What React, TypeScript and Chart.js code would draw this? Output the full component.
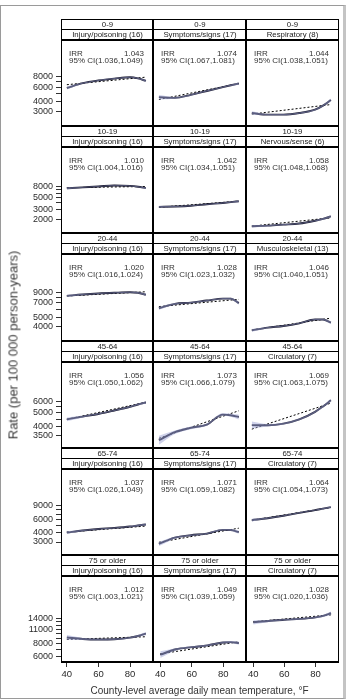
import React, { useEffect, useRef } from "react";
import { Chart, registerables } from "chart.js";

Chart.register(...registerables);

const FONT = "'Liberation Sans', Arial, Helvetica, sans-serif";

// Temperature grid (°F) of the smoothed curves and of the log-linear trend lines
const TEMPS = [40, 50, 60, 70, 80, 85, 90];
const TREND_TEMPS = [40, 90];
const X_TICKS = [40, 60, 80];

const AGE_GROUPS = ["0-9", "10-19", "20-44", "45-64", "65-74", "75 or older"];
const OUTCOMES = [
  ["Injury/poisoning (16)", "Symptoms/signs (17)", "Respiratory (8)"],
  ["Injury/poisoning (16)", "Symptoms/signs (17)", "Nervous/sense (6)"],
  ["Injury/poisoning (16)", "Symptoms/signs (17)", "Musculoskeletal (13)"],
  ["Injury/poisoning (16)", "Symptoms/signs (17)", "Circulatory (7)"],
  ["Injury/poisoning (16)", "Symptoms/signs (17)", "Circulatory (7)"],
  ["Injury/poisoning (16)", "Symptoms/signs (17)", "Circulatory (7)"],
];
const IRR_VALUES = [
  ["1.043", "1.074", "1.044"],
  ["1.010", "1.042", "1.058"],
  ["1.020", "1.028", "1.046"],
  ["1.056", "1.073", "1.069"],
  ["1.037", "1.071", "1.064"],
  ["1.012", "1.049", "1.028"],
];
const IRR_CI = [
  ["1.036,1.049", "1.067,1.081", "1.038,1.051"],
  ["1.004,1.016", "1.034,1.051", "1.048,1.068"],
  ["1.016,1.024", "1.023,1.032", "1.040,1.051"],
  ["1.050,1.062", "1.066,1.079", "1.063,1.075"],
  ["1.026,1.049", "1.059,1.082", "1.054,1.073"],
  ["1.003,1.021", "1.039,1.059", "1.020,1.036"],
];

// Log-scale y axis of each age-group row
const Y_MIN = [2565, 1580, 3490, 3260, 2610, 5360];
const Y_MAX = [17660, 29600, 18160, 9800, 21260, 29520];
const Y_TICKS = [
  [3000, 4000, 5000, 6000, 7000, 8000],
  [2000, 3000, 4000, 5000, 6000, 7000, 8000],
  [4000, 5000, 6000, 7000, 8000, 9000],
  [3500, 4000, 4500, 5000, 5500, 6000],
  [3000, 4000, 5000, 6000, 7000, 8000, 9000],
  [6000, 7000, 8000, 9000, 10000, 11000, 12000, 13000, 14000],
];
const Y_LABELS = [
  [3000, 4000, 6000, 8000],
  [2000, 3000, 5000, 8000],
  [4000, 5000, 7000, 9000],
  [3500, 4000, 5000, 6000],
  [3000, 4000, 6000, 9000],
  [6000, 8000, 11000, 14000],
];

// Smoothed rate (per 100 000 person-years), 95% band and linear trend, per outcome column
const FIT_0_9 = [
  [5860, 6700, 7230, 7610, 7900, 7650, 7150],
  [4900, 4820, 5150, 5630, 6140, 6400, 6650],
  [3430, 3310, 3310, 3430, 3700, 4050, 4600],
];
const LO_0_9 = [
  [5600, 6570, 7120, 7500, 7780, 7500, 6940],
  [4650, 4720, 5070, 5550, 6050, 6290, 6480],
  [3300, 3260, 3260, 3380, 3640, 3970, 4450],
];
const HI_0_9 = [
  [6120, 6830, 7340, 7720, 8020, 7800, 7360],
  [5150, 4920, 5230, 5710, 6230, 6510, 6820],
  [3570, 3360, 3360, 3480, 3760, 4130, 4750],
];
const TREND_0_9 = [
  [6420, 7920],
  [4650, 6650],
  [3350, 4150],
];

const FIT_10_19 = [
  [7350, 7650, 7950, 8300, 8150, 7850, 7400],
  [3850, 3890, 3990, 4200, 4400, 4520, 4660],
  [1990, 2030, 2100, 2180, 2400, 2560, 2780],
];
const LO_10_19 = [
  [7050, 7500, 7830, 8180, 8030, 7690, 7150],
  [3740, 3830, 3930, 4140, 4330, 4430, 4520],
  [1900, 1980, 2060, 2140, 2350, 2490, 2670],
];
const HI_10_19 = [
  [7660, 7800, 8070, 8420, 8270, 8010, 7650],
  [3960, 3950, 4050, 4260, 4470, 4610, 4800],
  [2080, 2080, 2140, 2220, 2450, 2630, 2890],
];
const TREND_10_19 = [
  [7550, 7930],
  [3800, 4670],
  [2000, 2650],
];

const FIT_20_44 = [
  [8270, 8550, 8760, 8900, 9000, 8900, 8500],
  [6490, 7060, 7230, 7520, 7790, 7800, 7150],
  [4270, 4500, 4640, 4880, 5250, 5250, 4950],
];
const LO_20_44 = [
  [8050, 8430, 8660, 8800, 8900, 8760, 8280],
  [6300, 6950, 7140, 7430, 7690, 7670, 6950],
  [4150, 4440, 4590, 4830, 5190, 5170, 4820],
];
const HI_20_44 = [
  [8500, 8670, 8860, 9000, 9100, 9040, 8720],
  [6690, 7170, 7320, 7610, 7890, 7930, 7360],
  [4390, 4560, 4690, 4930, 5310, 5330, 5080],
];
const TREND_20_44 = [
  [8250, 9110],
  [6700, 7690],
  [4300, 5380],
];

const FIT_45_64 = [
  [4500, 4700, 4900, 5180, 5500, 5700, 5880],
  [3600, 3990, 4220, 4400, 5000, 4960, 4850],
  [4370, 4360, 4450, 4700, 5180, 5550, 6000],
];
const LO_45_64 = [
  [4360, 4640, 4850, 5130, 5440, 5620, 5760],
  [3400, 3900, 4150, 4340, 4920, 4860, 4700],
  [4180, 4290, 4400, 4650, 5120, 5470, 5870],
];
const HI_45_64 = [
  [4640, 4760, 4950, 5230, 5560, 5780, 6000],
  [3810, 4080, 4290, 4460, 5080, 5060, 5000],
  [4570, 4430, 4500, 4750, 5240, 5630, 6130],
];
const TREND_45_64 = [
  [4500, 5910],
  [3690, 5250],
  [4150, 5790],
];

const FIT_65_74 = [
  [4000, 4250, 4450, 4600, 4800, 4950, 5100],
  [3420, 3980, 4230, 4400, 4820, 4800, 4560],
  [6100, 6400, 6800, 7300, 7800, 8100, 8400],
];
const LO_65_74 = [
  [3850, 4160, 4380, 4530, 4720, 4850, 4960],
  [3250, 3890, 4160, 4330, 4730, 4690, 4390],
  [5900, 6300, 6710, 7210, 7710, 7990, 8220],
];
const HI_65_74 = [
  [4160, 4340, 4520, 4670, 4880, 5050, 5240],
  [3600, 4070, 4300, 4470, 4910, 4910, 4740],
  [6300, 6500, 6890, 7390, 7890, 8210, 8580],
];
const TREND_65_74 = [
  [4050, 4860],
  [3560, 5020],
  [6100, 8320],
];

const FIT_75_UP = [
  [9190, 8900, 8800, 8850, 9150, 9500, 10000],
  [6200, 6900, 7200, 7450, 7900, 7950, 7800],
  [11800, 12100, 12400, 12600, 13000, 13400, 14100],
];
const LO_75_UP = [
  [8700, 8700, 8650, 8700, 9000, 9300, 9650],
  [5800, 6750, 7080, 7330, 7770, 7780, 7550],
  [11300, 11850, 12200, 12400, 12780, 13100, 13600],
];
const HI_75_UP = [
  [9700, 9100, 8950, 9000, 9300, 9700, 10350],
  [6620, 7050, 7320, 7570, 8030, 8120, 8050],
  [12300, 12350, 12600, 12800, 13220, 13700, 14600],
];
const TREND_75_UP = [
  [8800, 9340],
  [6300, 8000],
  [11900, 13660],
];

const FIT = [FIT_0_9, FIT_10_19, FIT_20_44, FIT_45_64, FIT_65_74, FIT_75_UP];
const LO = [LO_0_9, LO_10_19, LO_20_44, LO_45_64, LO_65_74, LO_75_UP];
const HI = [HI_0_9, HI_10_19, HI_20_44, HI_45_64, HI_65_74, HI_75_UP];
const TREND = [TREND_0_9, TREND_10_19, TREND_20_44, TREND_45_64, TREND_65_74, TREND_75_UP];

// Lattice geometry
const COL_X = [61, 153, 246];
const COL_W = [92, 93, 92];
const ROW_TOP = [19, 126, 233, 341, 448, 555];
const GRID_BOTTOM = 662;
const STRIP1_H = 10;
const STRIP_TOTAL = 21;
const Y_AXIS_W = 45;
const X_AXIS_H = 22;
const X_MIN = 36.3;
const X_MAX = 94.5;

const LINE_COLOR = "#16162a";
const BAND_COLOR = "rgba(160,166,214,0.5)";
const TEXT_COLOR = "#2a2a2a";

const rowBottom = (r: number) => (r < ROW_TOP.length - 1 ? ROW_TOP[r + 1] : GRID_BOTTOM);

function Panel({ r, c }: { r: number; c: number }) {
  const ref = useRef<HTMLCanvasElement | null>(null);
  const plotTop = ROW_TOP[r] + STRIP_TOTAL;
  const plotH = rowBottom(r) - plotTop;
  const hasY = c === 0;
  const hasX = r === ROW_TOP.length - 1;
  const left = COL_X[c] - (hasY ? Y_AXIS_W : 0);
  const width = COL_W[c] + (hasY ? Y_AXIS_W : 0);
  const height = plotH + (hasX ? X_AXIS_H : 0);

  useEffect(() => {
    if (!ref.current) return;
    const pts = (ys: number[]) => ys.map((y, i) => ({ x: TEMPS[i], y }));
    const chart = new Chart(ref.current, {
      type: "line",
      data: {
        datasets: [
          {
            data: pts(LO[r][c]),
            borderWidth: 0,
            pointRadius: 0,
            fill: false,
            cubicInterpolationMode: "monotone",
          },
          {
            data: pts(HI[r][c]),
            borderWidth: 0,
            pointRadius: 0,
            fill: "-1",
            backgroundColor: BAND_COLOR,
            cubicInterpolationMode: "monotone",
          },
          {
            data: pts(FIT[r][c]),
            borderColor: LINE_COLOR,
            borderWidth: 1.9,
            pointRadius: 0,
            fill: false,
            cubicInterpolationMode: "monotone",
          },
          {
            data: TREND[r][c].map((y, i) => ({ x: TREND_TEMPS[i], y })),
            borderColor: "#000",
            borderWidth: 1,
            borderDash: [2, 2],
            pointRadius: 0,
            fill: false,
          },
        ],
      },
      options: {
        responsive: false,
        animation: false,
        devicePixelRatio: 1,
        events: [],
        layout: { padding: 0, autoPadding: false },
        plugins: { legend: { display: false }, tooltip: { enabled: false } },
        scales: {
          x: {
            type: "linear",
            min: X_MIN,
            max: X_MAX,
            display: hasX,
            afterBuildTicks: (s: any) => {
              s.ticks = X_TICKS.map((v) => ({ value: v }));
            },
            afterFit: (s: any) => {
              s.height = hasX ? X_AXIS_H : 0;
            },
            grid: { drawOnChartArea: false, tickLength: 5, color: "#333", tickWidth: 1 },
            border: { display: false },
            ticks: {
              autoSkip: false,
              maxRotation: 0,
              padding: 2,
              color: TEXT_COLOR,
              font: { size: 9.5, family: FONT },
            },
          },
          y: {
            type: "logarithmic",
            min: Y_MIN[r],
            max: Y_MAX[r],
            display: hasY,
            afterBuildTicks: (s: any) => {
              s.ticks = Y_TICKS[r].map((v) => ({ value: v }));
            },
            afterFit: (s: any) => {
              s.width = hasY ? Y_AXIS_W : 0;
            },
            grid: { drawOnChartArea: false, tickLength: 5, color: "#333", tickWidth: 1 },
            border: { display: false },
            ticks: {
              autoSkip: false,
              padding: 3,
              color: TEXT_COLOR,
              font: { size: 9, family: FONT },
              callback: (v: any) => (Y_LABELS[r].includes(Number(v)) ? String(v) : ""),
            },
          },
        },
      },
    } as any);
    return () => chart.destroy();
  }, [r, c]);

  return (
    <canvas
      ref={ref}
      width={width}
      height={height}
      style={{ position: "absolute", left, top: plotTop, width, height }}
    />
  );
}

function Strip({ top, left, w, h, text, bottom }: { top: number; left: number; w: number; h: number; text: string; bottom: number }) {
  return (
    <div
      style={{
        position: "absolute",
        top,
        left,
        width: w + 1,
        height: h + 1,
        boxSizing: "border-box",
        border: "1px solid #000",
        borderBottomWidth: bottom,
        background: "#fff",
        font: `7.8px ${FONT}`,
        color: "#222",
        textAlign: "center",
        lineHeight: `${h - 1}px`,
        whiteSpace: "nowrap",
        overflow: "hidden",
      }}
    >
      {text}
    </div>
  );
}

// solid black rule used for the heavier lattice lines
function Rule({ x, y, w, h }: { x: number; y: number; w: number; h: number }) {
  return <div style={{ position: "absolute", left: x, top: y, width: w, height: h, background: "#000" }} />;
}

export default function App() {
  const cells: React.ReactNode[] = [];
  for (let r = 0; r < AGE_GROUPS.length; r++) {
    for (let c = 0; c < 3; c++) {
      const x = COL_X[c];
      const w = COL_W[c];
      const t = ROW_TOP[r];
      cells.push(<Panel key={`p${r}${c}`} r={r} c={c} />);
      cells.push(<Strip key={`a${r}${c}`} top={t} left={x} w={w} h={STRIP1_H} text={AGE_GROUPS[r]} bottom={1} />);
      cells.push(
        <Strip key={`b${r}${c}`} top={t + STRIP1_H} left={x} w={w} h={STRIP_TOTAL - STRIP1_H} text={OUTCOMES[r][c]} bottom={2} />
      );
      // panel frame
      cells.push(
        <div
          key={`f${r}${c}`}
          style={{
            position: "absolute",
            left: x,
            top: t + STRIP_TOTAL - 1,
            width: w + 1,
            height: rowBottom(r) - t - STRIP_TOTAL + 2,
            boxSizing: "border-box",
            border: "1px solid #000",
            pointerEvents: "none",
          }}
        />
      );
      const txt = { position: "absolute" as const, font: `8px ${FONT}`, color: "#333", whiteSpace: "nowrap" as const, lineHeight: "9px" };
      cells.push(
        <div key={`i${r}${c}`} style={{ ...txt, left: x + 8, top: t + 30 }}>
          IRR
        </div>
      );
      cells.push(
        <div key={`v${r}${c}`} style={{ ...txt, left: x + 8, width: w - 17, textAlign: "right", top: t + 30 }}>
          {IRR_VALUES[r][c]}
        </div>
      );
      cells.push(
        <div key={`c${r}${c}`} style={{ ...txt, left: x + 8, top: t + 37 }}>
          {`95% CI(${IRR_CI[r][c]})`}
        </div>
      );
    }
  }
  // heavier separators between columns and between rows
  const gridLeft = COL_X[0];
  const gridRight = COL_X[2] + COL_W[2] + 1;
  const rules: React.ReactNode[] = [];
  [COL_X[1], COL_X[2]].forEach((x, i) =>
    rules.push(<Rule key={`vr${i}`} x={x - 1} y={ROW_TOP[0]} w={2} h={GRID_BOTTOM - ROW_TOP[0] + 1} />)
  );
  ROW_TOP.slice(1).forEach((y, i) => rules.push(<Rule key={`hr${i}`} x={gridLeft} y={y - 1} w={gridRight - gridLeft} h={2} />));
  rules.push(<Rule key="hb" x={gridLeft} y={GRID_BOTTOM - 1} w={gridRight - gridLeft} h={2} />);

  return (
    <div
      style={{
        position: "absolute",
        left: 0,
        top: 0,
        width: 353,
        height: 699,
        background: "#fff",
        overflow: "hidden",
        willChange: "transform",
      }}
    >
      <div
        style={{
          position: "absolute",
          left: 0,
          top: 5,
          width: 346,
          height: 694,
          boxSizing: "border-box",
          borderTop: "1px solid #9a9a9a",
          borderLeft: "1px solid #9a9a9a",
          borderRight: "3px solid #c4c4c4",
          borderBottom: "1px solid #9a9a9a",
        }}
      />
      {cells}
      {rules}
      <div
        style={{
          position: "absolute",
          left: 13,
          top: 345,
          transform: "translate(-50%, -50%) rotate(-90deg)",
          font: `13px ${FONT}`,
          color: "#3a3a3a",
          whiteSpace: "nowrap",
        }}
      >
        Rate (per 100 000 person-years)
      </div>
      <div
        style={{
          position: "absolute",
          left: 61,
          width: 277,
          top: 685,
          textAlign: "center",
          font: `10px ${FONT}`,
          color: "#333",
          whiteSpace: "nowrap",
        }}
      >
        County-level average daily mean temperature, °F
      </div>
    </div>
  );
}
